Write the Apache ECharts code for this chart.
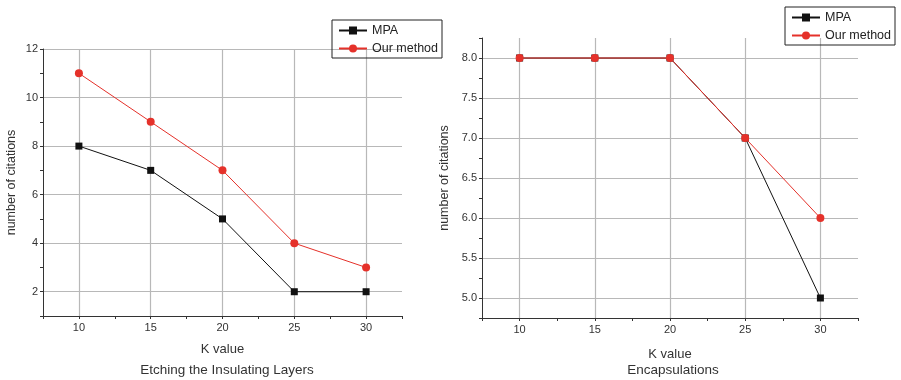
<!DOCTYPE html>
<html>
<head>
<meta charset="utf-8">
<script src="https://cdn.jsdelivr.net/npm/echarts@6/dist/echarts.min.js"></script>
<style>html,body{margin:0;padding:0;background:#fff}#c{width:901px;height:380px}</style>
</head>
<body>
<div id="c"></div>
<script>
var kValues = [10, 15, 20, 25, 30];
var mpaEtch = [8, 7, 5, 2, 2];
var oursEtch = [11, 9, 7, 4, 3];
var mpaEnc = [8, 8, 8, 7, 5];
var oursEnc = [8, 8, 8, 7, 6];
var seriesNames = ['MPA', 'Our method'];
var panelTitles = ['Etching the Insulating Layers', 'Encapsulations'];
var xName = 'K value';
var yName = 'number of citations';

function pairs(ys) { return kValues.map(function (k, i) { return [k, ys[i]]; }); }

var FONT = 'Liberation Sans, Arial, sans-serif';
var RED = '#e5312a';
var GRID = '#b8b8b8';
var AX = '#333';

function xAxis(gi, gap) {
  return {
    type: 'value', gridIndex: gi, min: 7.5, max: 32.5, interval: 2.5,
    name: xName, nameLocation: 'middle', nameGap: gap,
    nameTextStyle: { fontFamily: FONT, fontSize: 13, color: '#333' },
    axisLine: { lineStyle: { color: AX, width: 1 } },
    axisTick: { length: 3, lineStyle: { color: AX } },
    axisLabel: { fontFamily: FONT, fontSize: 11, color: '#333', margin: 6,
      formatter: function (v) { return (Math.abs(v % 5) < 1e-6) ? String(v) : ''; } },
    splitLine: { show: true, lineStyle: { color: ['rgba(0,0,0,0)', GRID], width: 1.2 } }
  };
}
function yAxis(gi, min, max, interval, gap, fmt) {
  return {
    type: 'value', gridIndex: gi, min: min, max: max, interval: interval,
    name: yName, nameLocation: 'middle', nameGap: gap,
    nameTextStyle: { fontFamily: FONT, fontSize: 12.5, color: '#333' },
    axisLine: { show: true, lineStyle: { color: AX, width: 1 } },
    axisTick: { show: true, length: 3, lineStyle: { color: AX } },
    axisLabel: { fontFamily: FONT, fontSize: 11, color: '#333', margin: 5, formatter: fmt },
    splitLine: { show: true, lineStyle: { color: ['rgba(0,0,0,0)', GRID], width: 1.2 } }
  };
}
function mk(name, data, gi, isMpa) {
  return {
    name: name, type: 'line', xAxisIndex: gi, yAxisIndex: gi, data: pairs(data),
    symbol: isMpa ? 'rect' : 'circle', symbolSize: isMpa ? 7 : 8,
    lineStyle: { color: isMpa ? '#111' : RED, width: 1 },
    itemStyle: { color: isMpa ? '#111' : RED },
    z: isMpa ? 2 : 3, animation: false
  };
}
function legend(left, top) {
  return {
    data: seriesNames, orient: 'vertical', left: left, top: top,
    borderColor: '#222', borderWidth: 1, padding: [4, 4, 3, 6],
    itemWidth: 28, itemHeight: 10, itemGap: 5,
    textStyle: { fontFamily: FONT, fontSize: 12.5, color: '#222' }
  };
}

var chart = echarts.init(document.getElementById('c'));
chart.setOption({
  animation: false,
  backgroundColor: '#fff',
  title: [
    { text: panelTitles[0], left: 227, top: 363, textAlign: 'center', padding: 0,
      textStyle: { fontFamily: FONT, fontSize: 13.5, fontWeight: 'normal', color: '#333' } },
    { text: panelTitles[1], left: 673, top: 363, textAlign: 'center', padding: 0,
      textStyle: { fontFamily: FONT, fontSize: 13.5, fontWeight: 'normal', color: '#333' } }
  ],
  legend: [legend(332, 20), legend(785, 7)],
  grid: [
    { left: 43, right: 499, top: 49, bottom: 64 },
    { left: 482, right: 43, top: 38, bottom: 62 }
  ],
  xAxis: [xAxis(0, 27), xAxis(1, 30)],
  yAxis: [
    yAxis(0, 1, 12, 1, 25, function (v) { return (v % 2 === 0) ? String(v) : ''; }),
    yAxis(1, 4.75, 8.25, 0.25, 31, function (v) { return (Math.abs((v * 2) % 1) < 1e-6) ? v.toFixed(1) : ''; })
  ],
  series: [
    mk(seriesNames[0], mpaEtch, 0, true),
    mk(seriesNames[1], oursEtch, 0, false),
    mk(seriesNames[0], mpaEnc, 1, true),
    mk(seriesNames[1], oursEnc, 1, false)
  ]
});
</script>
</body>
</html>
